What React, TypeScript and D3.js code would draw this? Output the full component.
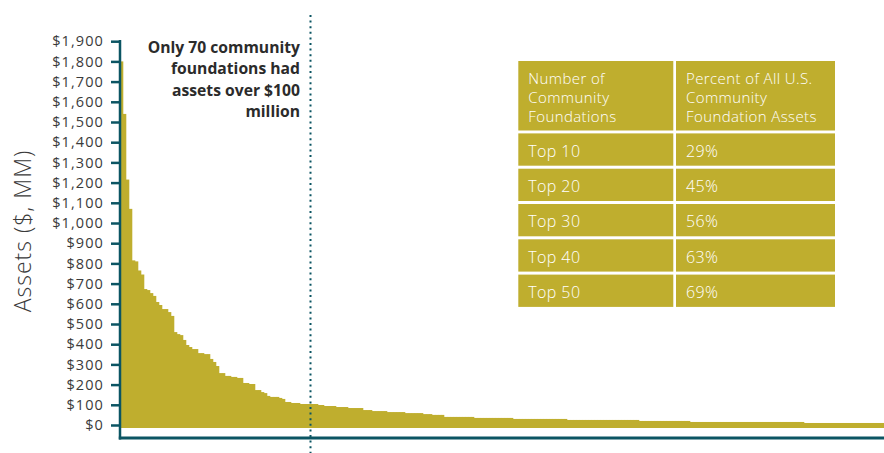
import { useEffect, useRef } from "react";
import * as d3 from "d3";

const width = 884;
const height = 453;

// assets of each community foundation, $ millions, largest first
const assets = [
  1800, 1540, 1215, 1070, 815, 810, 765, 745, 673, 668,
  653, 639, 609, 594, 574, 574, 559, 540, 460, 450,
  445, 421, 396, 386, 376, 376, 356, 356, 351, 351,
  327, 312, 292, 257, 257, 243, 243, 238, 238, 233,
  233, 208, 208, 203, 203, 173, 173, 163, 158, 144,
  139, 139, 139, 134, 129, 114, 114, 109, 109, 109,
  104, 104, 104, 104, 104, 104, 99, 99, 94, 94,
  94, 94, 89, 89, 89, 89, 84, 84, 84, 84,
  84, 74, 74, 74, 69, 69, 69, 69, 69, 64,
  64, 64, 64, 64, 64, 59, 59, 59, 59, 59,
  59, 54, 54, 54, 50, 50, 50, 50, 40, 40,
  40, 40, 40, 40, 40, 40, 40, 40, 35, 35,
  35, 35, 35, 35, 35, 35, 35, 35, 35, 35,
  35, 30, 30, 30, 30, 30, 30, 30, 30, 30,
  30, 30, 30, 30, 30, 30, 30, 30, 30, 25,
  25, 25, 25, 25, 25, 25, 25, 25, 25, 25,
  25, 25, 25, 25, 25, 25, 25, 25, 25, 25,
  25, 25, 25, 20, 20, 20, 20, 20, 20, 20,
  20, 20, 20, 20, 20, 20, 20, 20, 20, 20,
  15, 15, 15, 15, 15, 15, 15, 15, 15, 15,
  15, 15, 15, 15, 15, 15, 15, 15, 15, 15,
  15, 15, 15, 15, 15, 15, 15, 15, 15, 15,
  15, 15, 15, 15, 15, 15, 15, 15, 10, 10,
  10, 10, 10, 10, 10, 10, 10, 10, 10, 10,
  10, 10, 10, 10, 10, 10, 10, 10, 10, 10,
  10, 10, 10, 10, 10,
];

const yTicks = d3.range(0, 1901, 100);

// foundations counted before the dotted marker
const markerCount = 63;

const noteLines = [
  "Only 70 community",
  "foundations had",
  "assets over $100",
  "million",
];

const tableHead1 = ["Number of", "Community", "Foundations"];
const tableHead2 = ["Percent of All U.S.", "Community", "Foundation Assets"];
const tableGroups = ["Top 10", "Top 20", "Top 30", "Top 40", "Top 50"];
const tableShares = ["29%", "45%", "56%", "63%", "69%"];

const gold = "#bfae2e";
const teal = "#0b5563";
const font = "'Open Sans', Lato, sans-serif";

export default function App() {
  const svgRef = useRef<SVGSVGElement | null>(null);

  useEffect(() => {
    if (!svgRef.current) return;
    const svg = d3.select(svgRef.current);
    svg.selectAll("*").remove();

    const x = d3
      .scaleBand<number>()
      .domain(d3.range(assets.length))
      .range([120, 885])
      .padding(0);

    const y = d3.scaleLinear().domain([0, 1900]).range([425, 41.2]);

    // bars
    svg
      .append("g")
      .selectAll("rect")
      .data(assets)
      .join("rect")
      .attr("x", (_, i) => x(i) ?? 0)
      .attr("width", x.bandwidth() + 0.3)
      .attr("y", (d) => y(d))
      .attr("height", (d) => y(0) + 3 - y(d))
      .attr("fill", gold);

    // y axis
    const yAxis = svg
      .append("g")
      .attr("transform", "translate(120,0)")
      .call(
        d3
          .axisLeft(y)
          .tickValues(yTicks)
          .tickSize(9)
          .tickPadding(7)
          .tickFormat((d) => "$" + d3.format(",")(d as number)),
      );
    yAxis.select(".domain").remove();
    yAxis.selectAll("line").attr("stroke", teal).attr("stroke-width", 2.5);
    yAxis
      .selectAll("text")
      .attr("fill", "#3a3a3a")
      .style("font-family", font)
      .style("font-size", "14.5px")
      .style("letter-spacing", "1.1px");

    svg
      .append("line")
      .attr("x1", 120)
      .attr("x2", 120)
      .attr("y1", y(1900) - 1.2)
      .attr("y2", 439.5)
      .attr("stroke", teal)
      .attr("stroke-width", 2.5);

    // x axis line
    svg
      .append("line")
      .attr("x1", 118.8)
      .attr("x2", width)
      .attr("y1", 438)
      .attr("y2", 438)
      .attr("stroke", teal)
      .attr("stroke-width", 3);

    // dotted marker
    const mx = (x(markerCount) ?? 0) + 1.5;
    svg
      .append("line")
      .attr("x1", mx)
      .attr("x2", mx)
      .attr("y1", 15)
      .attr("y2", height)
      .attr("stroke", teal)
      .attr("stroke-width", 2)
      .attr("stroke-dasharray", "2 3.6");

    // note
    svg
      .append("text")
      .attr("text-anchor", "end")
      .attr("fill", "#2b2b2b")
      .style("font-family", font)
      .style("font-size", "15.7px")
      .style("font-weight", "700")
      .selectAll("tspan")
      .data(noteLines)
      .join("tspan")
      .attr("x", 300)
      .attr("y", (_, i) => 53 + i * 21.3)
      .text((d) => d);

    // y axis title
    svg
      .append("text")
      .attr("transform", "translate(31,231) rotate(-90)")
      .attr("text-anchor", "middle")
      .attr("fill", "#3a3a3a")
      .style("font-family", font)
      .style("font-size", "23px")
      .style("font-weight", "300")
      .style("letter-spacing", "1px")
      .text("Assets ($, MM)");

    // table
    const col1 = 518.3;
    const col2 = 676;
    const colW1 = 155;
    const colW2 = 159;
    const headTop = 61;
    const headH = 69.5;
    const rowTop = 133.4;
    const rowH = 32.3;
    const rowStep = 35.3;

    const table = svg
      .append("g")
      .style("font-family", font)
      .style("font-weight", "300")
      .style("letter-spacing", "0.4px");

    table
      .append("rect")
      .attr("x", col1)
      .attr("y", headTop)
      .attr("width", colW1)
      .attr("height", headH)
      .attr("fill", gold);
    table
      .append("rect")
      .attr("x", col2)
      .attr("y", headTop)
      .attr("width", colW2)
      .attr("height", headH)
      .attr("fill", gold);

    [tableHead1, tableHead2].forEach((lines, c) => {
      table
        .append("text")
        .attr("fill", "white")
        .style("font-size", "15px")
        .selectAll("tspan")
        .data(lines)
        .join("tspan")
        .attr("x", (c === 0 ? col1 : col2) + 10)
        .attr("y", (_, i) => 84.3 + i * 18.7)
        .text((d) => d);
    });

    const rows = table
      .selectAll("g.row")
      .data(tableGroups)
      .join("g")
      .attr("class", "row")
      .attr("transform", (_, i) => `translate(0,${rowTop + i * rowStep})`);

    rows
      .append("rect")
      .attr("x", col1)
      .attr("width", colW1)
      .attr("height", rowH)
      .attr("fill", gold);
    rows
      .append("rect")
      .attr("x", col2)
      .attr("width", colW2)
      .attr("height", rowH)
      .attr("fill", gold);
    rows
      .append("text")
      .attr("x", col1 + 10)
      .attr("y", 23.3)
      .attr("fill", "white")
      .style("font-size", "16px")
      .text((d) => d);
    rows
      .append("text")
      .attr("x", col2 + 10)
      .attr("y", 23.3)
      .attr("fill", "white")
      .style("font-size", "16px")
      .text((_, i) => tableShares[i]);
  }, []);

  return (
    <svg
      ref={svgRef}
      width={width}
      height={height}
      style={{ position: "absolute", left: 0, top: 0, display: "block", background: "white" }}
    />
  );
}
